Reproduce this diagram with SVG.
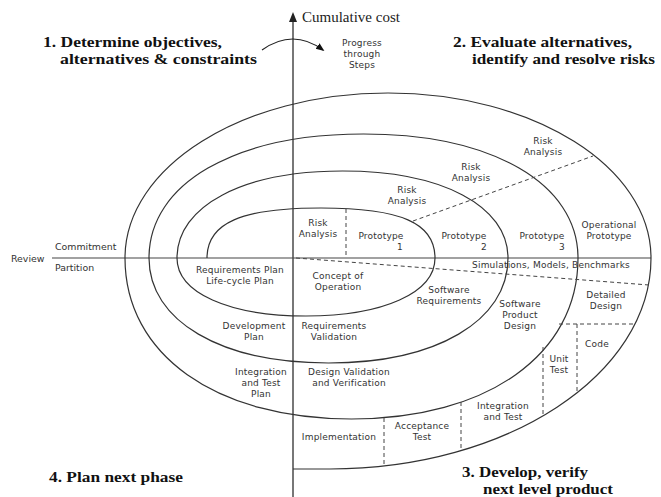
<svg xmlns="http://www.w3.org/2000/svg" width="661" height="497" viewBox="0 0 661 497">
  <style>
    .axis { stroke: #555; stroke-width: 1.6; fill: none; }
    .haxis { stroke: #444; stroke-width: 1.1; fill: none; }
    .spiral { stroke: #333; stroke-width: 1.2; fill: none; }
    .dash { stroke: #444; stroke-width: 1; fill: none; stroke-dasharray: 4 3; }
    .lbl { font-family: "DejaVu Sans", "Liberation Sans", Arial, sans-serif; font-size: 9px; letter-spacing: 0.2px; fill: #333; text-anchor: middle; }
    .side { font-family: "DejaVu Sans", "Liberation Sans", Arial, sans-serif; font-size: 9.4px; fill: #333; }
    .head { font-family: "Liberation Serif", "Times New Roman", serif; font-size: 15px; font-weight: bold; fill: #111; }
    .axlbl { font-family: "Liberation Serif", "Times New Roman", serif; font-size: 15px; fill: #222; }
  </style>
  <defs>
    <marker id="arrowhead" viewBox="0 0 10 10" refX="8" refY="5" markerWidth="7" markerHeight="7" orient="auto">
      <path d="M0,1 L10,5 L0,9 Z" fill="#111"/>
    </marker>
  </defs>

  <rect width="661" height="497" fill="#fff"/>

  <!-- axes -->
  <g id="axes">
    <line class="axis" x1="293" y1="20" x2="293" y2="497"/>
    <polygon points="289,22 297,22 293,12" fill="#222"/>
    <line class="haxis" x1="52" y1="258" x2="651" y2="258"/>
    <text class="axlbl" x="302" y="22">Cumulative cost</text>
  </g>

  <!-- connectors: spiral, cell dividers and the progress arrow -->
  <g id="connectors">
    <path class="spiral" d="M207,258 C207,223 241.2,208 321,208 C400.8,208 435,223 435,258
      C435,292.8 383.4,316 306,316 C228.6,316 177,292.8 177,258
      C177,205.8 243.2,171 342.5,171 C441.8,171 508,205.8 508,258
      C508,321 436.2,363 328.5,363 C220.8,363 149,321 149,258
      C149,183.6 234.8,134 363.5,134 C492.2,134 578,183.6 578,258
      C578,354.6 487.4,419 351.5,419 C215.6,419 125,354.6 125,258
      C125,166.9 242.7,93 388,93 C533.3,93 651,166.9 651,258
      C651,374.5 507.3,469 330,469 L293,469"/>
    <!-- risk analysis boundaries -->
    <line class="dash" x1="346" y1="209" x2="346" y2="258"/>
    <line class="dash" x1="413" y1="221" x2="593" y2="156"/>
    <!-- simulations band -->
    <line class="dash" x1="296" y1="258" x2="649" y2="285"/>
    <!-- development cells -->
    <line class="dash" x1="559" y1="324" x2="635" y2="324"/>
    <line class="dash" x1="577" y1="324" x2="577" y2="393"/>
    <line class="dash" x1="543" y1="347" x2="543" y2="416"/>
    <line class="dash" x1="461" y1="402" x2="461" y2="450"/>
    <line class="dash" x1="384" y1="418" x2="384" y2="466"/>
    <!-- progress arrow -->
    <path d="M262,50 Q293,28 323,50" stroke="#222" stroke-width="1.2" fill="none" marker-end="url(#arrowhead)"/>
  </g>

  <!-- quadrant headings -->
  <g id="q1">
    <text class="head" x="43" y="47" textLength="179" lengthAdjust="spacingAndGlyphs">1. Determine objectives,</text>
    <text class="head" x="60" y="64" textLength="197" lengthAdjust="spacingAndGlyphs">alternatives &amp; constraints</text>
  </g>
  <g id="q2">
    <text class="head" x="453" y="47" textLength="179" lengthAdjust="spacingAndGlyphs">2. Evaluate alternatives,</text>
    <text class="head" x="472" y="64" textLength="183" lengthAdjust="spacingAndGlyphs">identify and resolve risks</text>
  </g>
  <g id="q3">
    <text class="head" x="462" y="477" textLength="126" lengthAdjust="spacingAndGlyphs">3. Develop, verify</text>
    <text class="head" x="483" y="494" textLength="130" lengthAdjust="spacingAndGlyphs">next level product</text>
  </g>
  <g id="q4">
    <text class="head" x="49" y="482" textLength="134" lengthAdjust="spacingAndGlyphs">4. Plan next phase</text>
  </g>

  <g id="progress">
    <text class="lbl" x="362" y="46">Progress</text>
    <text class="lbl" x="362" y="57">through</text>
    <text class="lbl" x="362" y="68">Steps</text>
  </g>

  <g id="review">
    <text class="side" x="11" y="262">Review</text>
    <text class="side" x="55" y="250">Commitment</text>
    <text class="side" x="55" y="271">Partition</text>
  </g>

  <!-- cells of quadrant 2 -->
  <g id="risk1"><text class="lbl" x="318" y="226">Risk</text><text class="lbl" x="318" y="237">Analysis</text></g>
  <g id="risk2"><text class="lbl" x="407" y="193">Risk</text><text class="lbl" x="407" y="204">Analysis</text></g>
  <g id="risk3"><text class="lbl" x="471" y="170">Risk</text><text class="lbl" x="471" y="181">Analysis</text></g>
  <g id="risk4"><text class="lbl" x="543" y="144">Risk</text><text class="lbl" x="543" y="155">Analysis</text></g>
  <g id="proto1"><text class="lbl" x="381" y="239">Prototype</text><text class="lbl" x="400" y="250">1</text></g>
  <g id="proto2"><text class="lbl" x="464" y="239">Prototype</text><text class="lbl" x="484" y="250">2</text></g>
  <g id="proto3"><text class="lbl" x="542" y="239">Prototype</text><text class="lbl" x="562" y="250">3</text></g>
  <g id="proto-op"><text class="lbl" x="609" y="228">Operational</text><text class="lbl" x="609" y="239">Prototype</text></g>

  <!-- cells of quadrant 3 -->
  <g id="sim"><text class="lbl" x="551" y="268">Simulations, Models, Benchmarks</text></g>
  <g id="concept"><text class="lbl" x="338" y="279">Concept of</text><text class="lbl" x="338" y="290">Operation</text></g>
  <g id="sw-req"><text class="lbl" x="449" y="293">Software</text><text class="lbl" x="449" y="304">Requirements</text></g>
  <g id="sw-design"><text class="lbl" x="520" y="307">Software</text><text class="lbl" x="520" y="318">Product</text><text class="lbl" x="520" y="329">Design</text></g>
  <g id="detailed"><text class="lbl" x="606" y="298">Detailed</text><text class="lbl" x="606" y="309">Design</text></g>
  <g id="code"><text class="lbl" x="597" y="347">Code</text></g>
  <g id="unit"><text class="lbl" x="559" y="362">Unit</text><text class="lbl" x="559" y="373">Test</text></g>
  <g id="integ"><text class="lbl" x="503" y="409">Integration</text><text class="lbl" x="503" y="420">and Test</text></g>
  <g id="accept"><text class="lbl" x="422" y="429">Acceptance</text><text class="lbl" x="422" y="440">Test</text></g>
  <g id="impl"><text class="lbl" x="339" y="440">Implementation</text></g>
  <g id="req-val"><text class="lbl" x="334" y="329">Requirements</text><text class="lbl" x="334" y="340">Validation</text></g>
  <g id="design-val"><text class="lbl" x="349" y="375">Design Validation</text><text class="lbl" x="349" y="386">and Verification</text></g>

  <!-- cells of quadrant 4 -->
  <g id="req-plan"><text class="lbl" x="240" y="273">Requirements Plan</text><text class="lbl" x="240" y="284">Life-cycle Plan</text></g>
  <g id="dev-plan"><text class="lbl" x="254" y="329">Development</text><text class="lbl" x="254" y="340">Plan</text></g>
  <g id="test-plan"><text class="lbl" x="261" y="375">Integration</text><text class="lbl" x="261" y="386">and Test</text><text class="lbl" x="261" y="397">Plan</text></g>
</svg>
